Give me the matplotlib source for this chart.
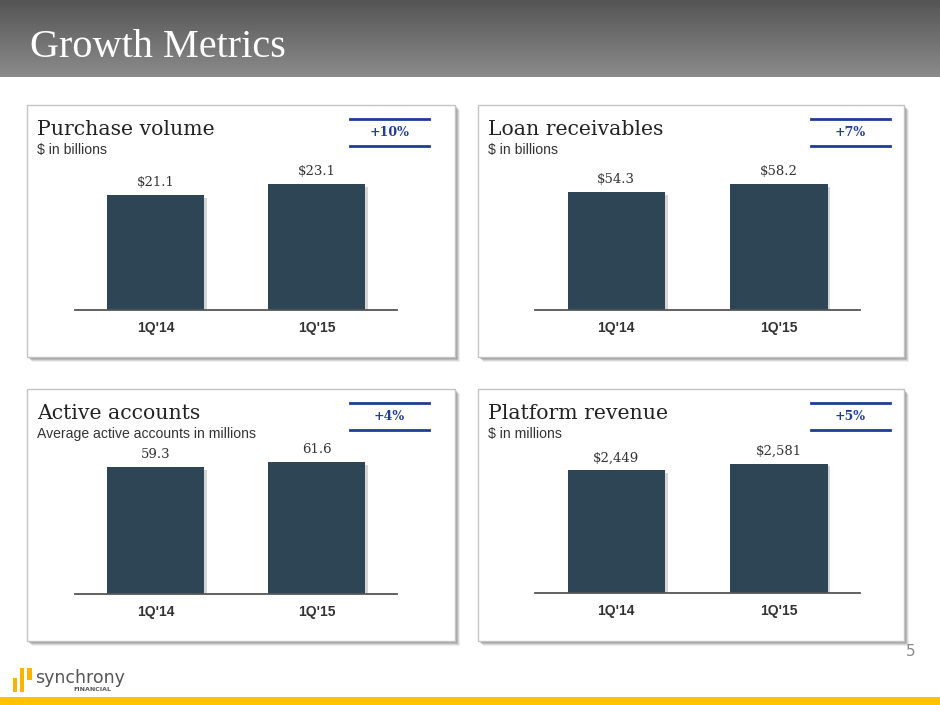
import numpy as np
import matplotlib
matplotlib.use("Agg")
import matplotlib.pyplot as plt
from matplotlib.patches import Rectangle
import matplotlib.patheffects as pe

W, H = 940, 705

# chart data
quarters = ["1Q'14", "1Q'15"]
purchase_volume = [21.1, 23.1]
loan_receivables = [54.3, 58.2]
active_accounts = [59.3, 61.6]
platform_revenue = [2449, 2581]

titles = ["Purchase volume", "Loan receivables", "Active accounts", "Platform revenue"]
subtitles = ["$ in billions", "$ in billions",
             "Average active accounts in millions", "$ in millions"]
value_formats = ["${:.1f}", "${:.1f}", "{:.1f}", "${:,.0f}"]
growth = ["+10%", "+7%", "+4%", "+5%"]
series = [purchase_volume, loan_receivables, active_accounts, platform_revenue]

BAR_COLOR = "#2e4555"
NAVY = "#1f3c96"
TEXT = "#333333"
SERIF = "DejaVu Serif"
SANS = "Liberation Sans"

fig = plt.figure(figsize=(W / 100, H / 100), dpi=100)

# background canvas in pixel coordinates (y down)
bg = fig.add_axes([0, 0, 1, 1])
bg.set_xlim(0, W)
bg.set_ylim(H, 0)
bg.axis("off")

# header gradient
grad = np.linspace(0, 1, 100).reshape(-1, 1)
bg.imshow(grad, extent=[0, W, 77, 0], aspect="auto",
          cmap=matplotlib.colors.LinearSegmentedColormap.from_list(
              "hdr", ["#555555", "#8b8b8b"]), zorder=0)
bg.text(30, 57, "Growth Metrics", color="white", fontsize=29,
        family="Liberation Serif", va="baseline", ha="left")

# panel layout: (left, top, right, bottom), axes x-range, baseline
panels = [
    (27, 105, 455, 357),
    (478, 105, 904, 357),
    (27, 389, 455, 641),
    (478, 389, 904, 641),
]
axes_x = [(75, 397), (535, 860), (75, 397), (535, 860)]
baselines = [310, 310, 594, 593]
badge_x = [(350, 429), (811, 890), (350, 429), (811, 890)]
headroom = [1.19, 1.19, 1.14, 1.16]
AX_H = 150

for i, (l, t, r, b) in enumerate(panels):
    # soft shadow
    for off, a in [(5, 0.12), (4, 0.2), (3, 0.3), (2, 0.35)]:
        bg.add_patch(Rectangle((l + off, t + off), r - l, b - t,
                               facecolor="#7a7a7a", edgecolor="none",
                               alpha=a, zorder=1))
    bg.add_patch(Rectangle((l, t), r - l, b - t, facecolor="white",
                           edgecolor="#c4c4c4", lw=1, zorder=2))

    bg.text(l + 10, t + 30, titles[i], fontsize=14.7, family=SERIF,
            color="#222222", va="baseline", zorder=3)
    bg.text(l + 10, t + 45, subtitles[i], fontsize=10.1, family=SANS,
            color=TEXT, va="center", zorder=3, parse_math=False)

    bx0, bx1 = badge_x[i]
    bg.plot([bx0, bx1], [t + 14, t + 14], color=NAVY, lw=2, zorder=3)
    bg.plot([bx0, bx1], [t + 41, t + 41], color=NAVY, lw=2, zorder=3)
    bg.text((bx0 + bx1) / 2, t + 28, growth[i], fontsize=9, family=SERIF,
            weight="bold", color=NAVY, ha="center", va="center", zorder=3)

    # bar chart axes
    ax0, ax1 = axes_x[i]
    base = baselines[i]
    ax = fig.add_axes([ax0 / W, (H - base) / H, (ax1 - ax0) / W, AX_H / H])
    ax.set_facecolor("none")
    vals = series[i]
    bars = ax.bar(range(len(quarters)), vals, width=0.6, color=BAR_COLOR)
    for bar in bars:
        bar.set_path_effects([pe.SimplePatchShadow(offset=(2, -2),
                                                   shadow_rgbFace="#888888",
                                                   alpha=0.35),
                              pe.Normal()])
    ax.set_xlim(-0.5, len(quarters) - 0.5)
    ax.set_ylim(0, max(vals) * headroom[i])
    for j, v in enumerate(vals):
        ax.annotate(value_formats[i].format(v), (j, v), xytext=(0, 6),
                    textcoords="offset pixels", ha="center", va="bottom",
                    fontsize=9.5, family=SERIF, color=TEXT,
                    annotation_clip=False).set_parse_math(False)
    for s in ["top", "right", "left"]:
        ax.spines[s].set_visible(False)
    ax.spines["bottom"].set_color("#555555")
    ax.spines["bottom"].set_linewidth(1.3)
    ax.set_yticks([])
    ax.set_xticks(range(len(quarters)))
    ax.set_xticklabels(quarters, fontsize=10, family=SANS, weight="bold",
                       color=TEXT)
    ax.tick_params(axis="x", length=0, pad=8)

# footer
bg.add_patch(Rectangle((0, 697), W, 8, facecolor="#ffc400",
                       edgecolor="none", zorder=3))
for (x0, y0, w, h) in [(13, 678, 4, 14), (20, 668, 4, 24), (27, 668, 5, 12)]:
    bg.add_patch(Rectangle((x0, y0), w, h, facecolor="#f7b500",
                           edgecolor="none", zorder=3))
bg.text(35, 678, "synchrony", fontsize=12.5, family="DejaVu Sans",
        color="#555555", va="center", ha="left", zorder=3)
bg.text(92, 689.5, "FINANCIAL", fontsize=4.5, family="DejaVu Sans",
        weight="bold", color="#555555", va="center", ha="center", zorder=3)
bg.text(911, 652, "5", fontsize=11, family="DejaVu Sans", color="#888888",
        va="center", ha="center", zorder=3)

fig.savefig("out.png", dpi=100)
